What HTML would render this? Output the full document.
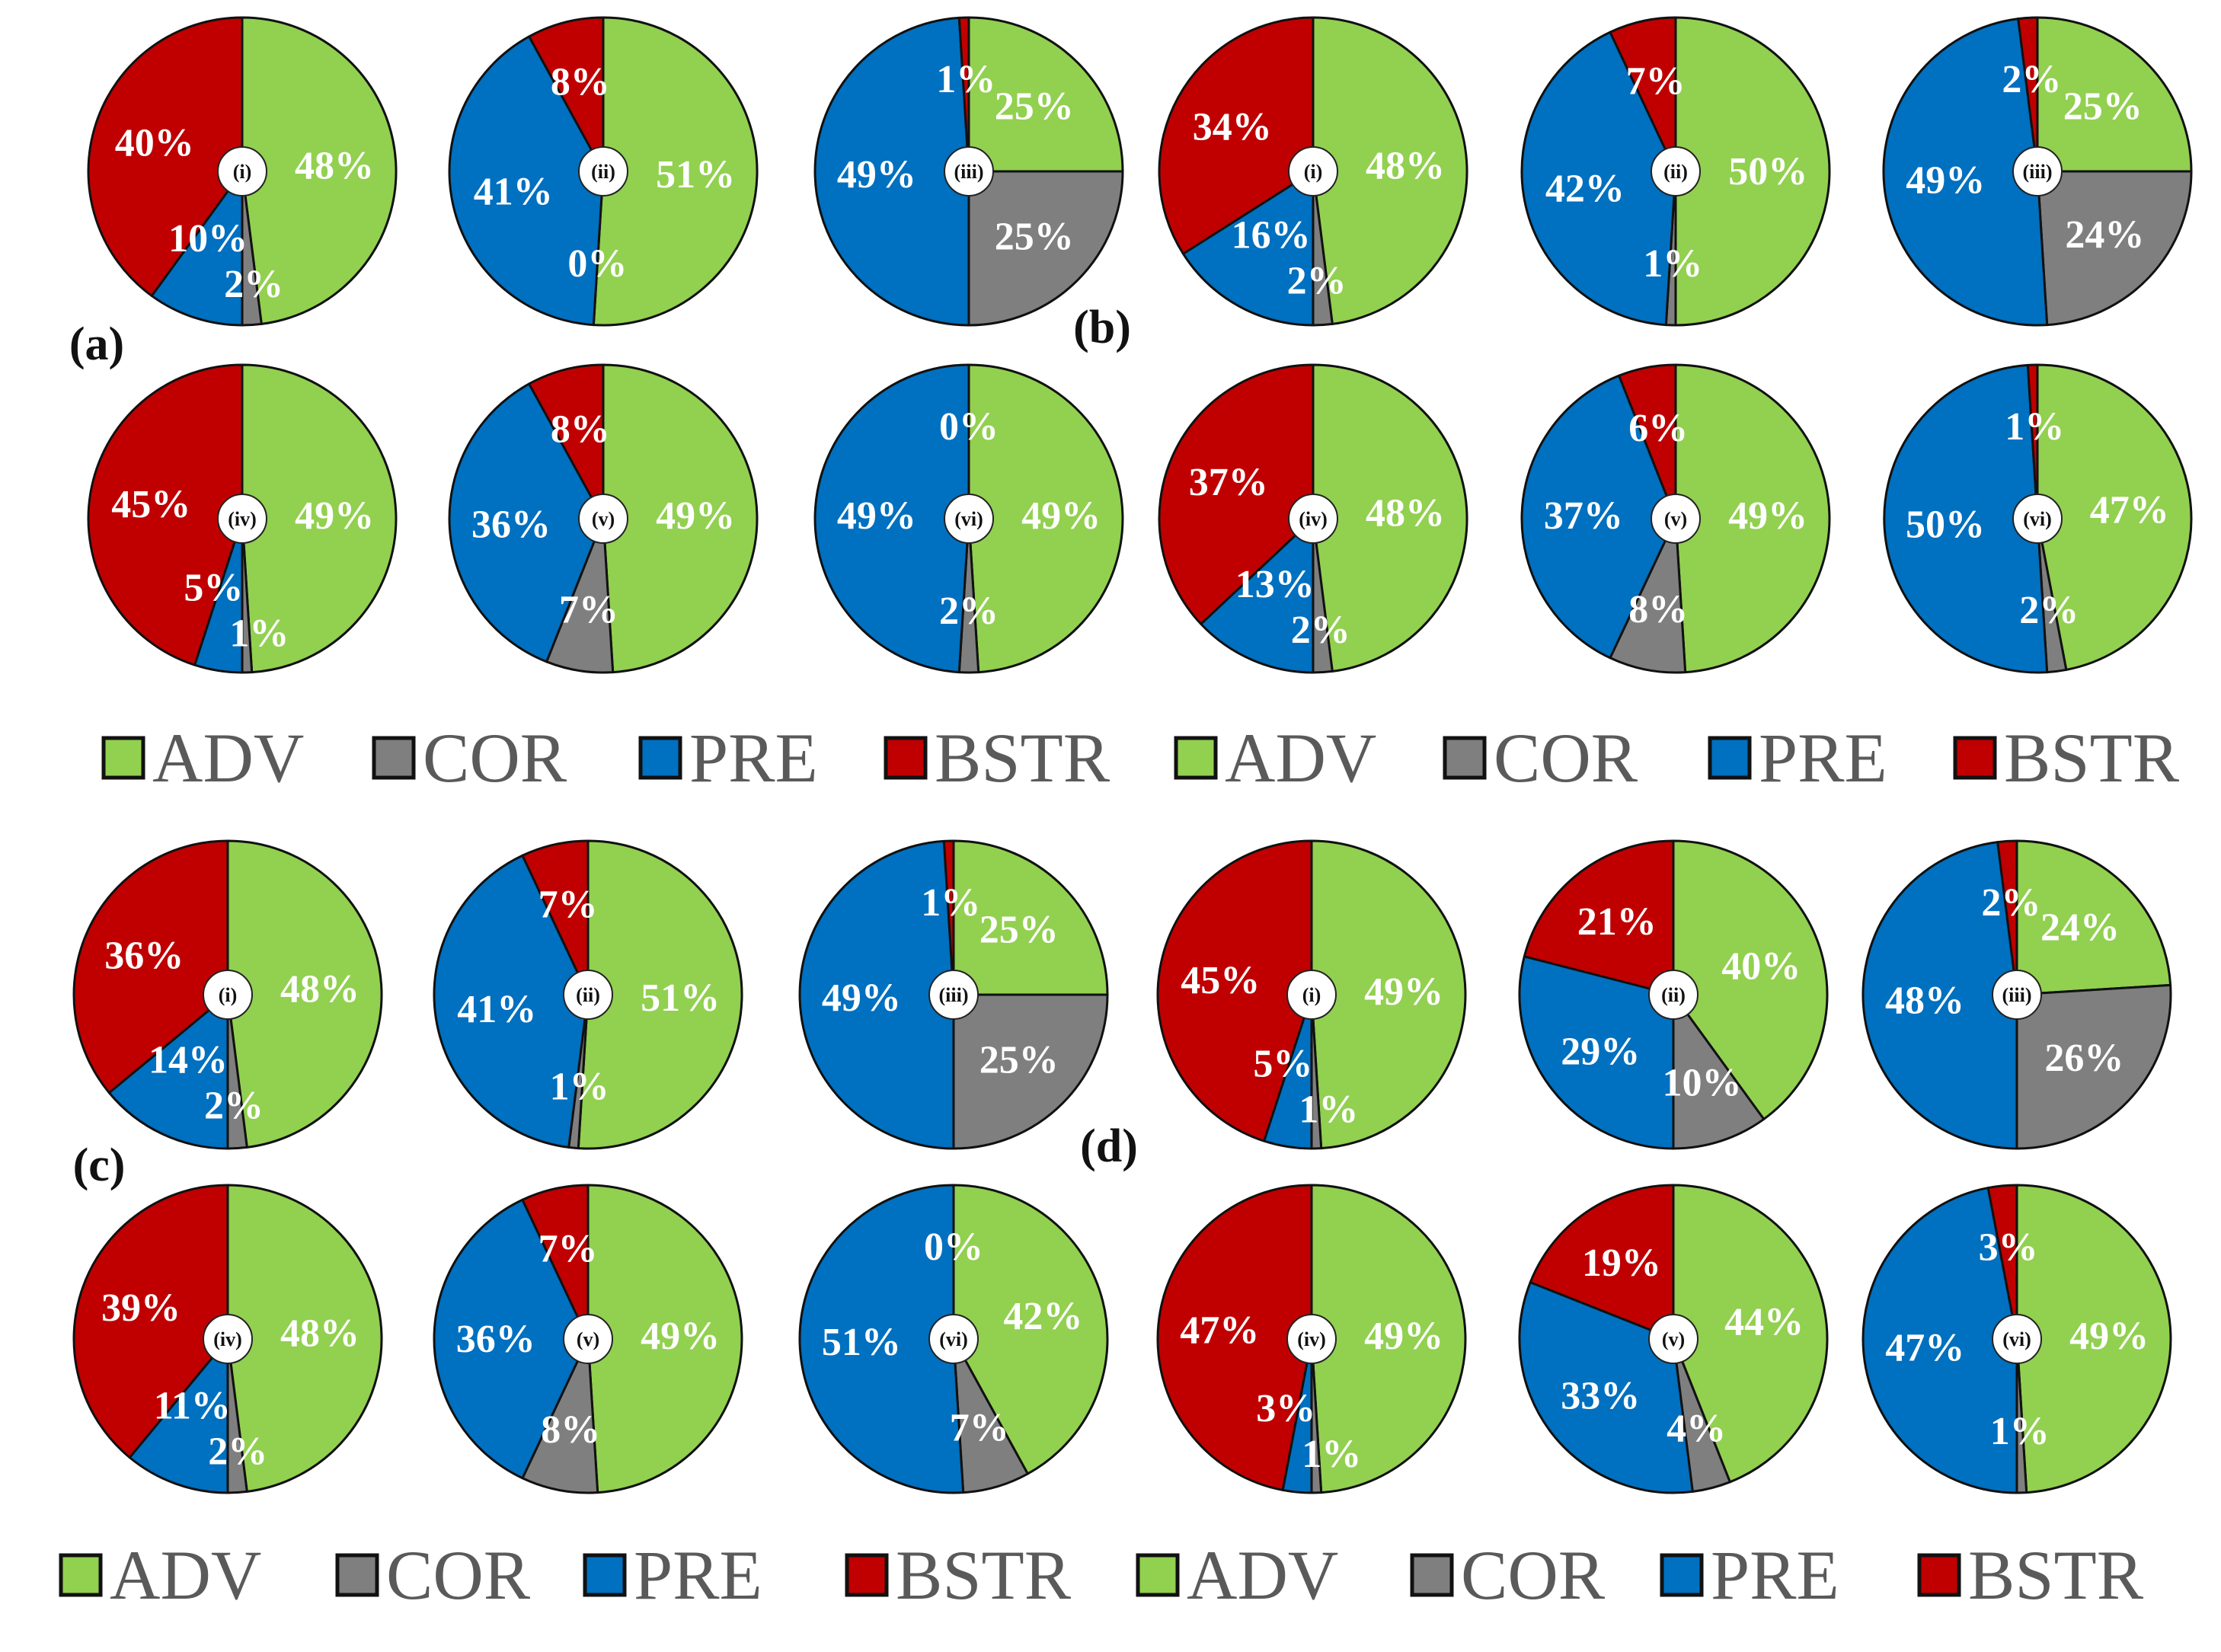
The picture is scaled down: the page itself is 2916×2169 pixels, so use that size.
<!DOCTYPE html>
<html><head><meta charset="utf-8">
<style>
html,body{margin:0;padding:0;background:#fff;}
svg{display:block;}
text{font-family:"Liberation Serif",serif;}
</style></head>
<body>
<svg id="fig" width="2916" height="2169" viewBox="0 0 2916 2169" xmlns="http://www.w3.org/2000/svg"></svg>
<script>
// ---- data ----
const categories = ["ADV","COR","PRE","BSTR"];
const seriesColors = ["#92D050","#7F7F7F","#0070C0","#C00000"];
const pieIds = ["i","ii","iii","iv","v","vi"];
const panelNames = ["a","b","c","d"];
const panelA = [[48,2,10,40],[51,0,41,8],[25,25,49,1],[49,1,5,45],[49,7,36,8],[49,2,49,0]];
const panelB = [[48,2,16,34],[50,1,42,7],[25,24,49,2],[48,2,13,37],[49,8,37,6],[47,2,50,1]];
const panelC = [[48,2,14,36],[51,1,41,7],[25,25,49,1],[48,2,11,39],[49,8,36,7],[42,7,51,0]];
const panelD = [[49,1,5,45],[40,10,29,21],[24,26,48,2],[49,1,3,47],[44,4,33,19],[49,1,47,3]];

// ---- layout ----
const NS = "http://www.w3.org/2000/svg";
const svg = document.getElementById("fig");
const R = 202;
const colsTop = [318, 792, 1272, 1724, 2200, 2675];
const colsBot = [299, 772, 1252, 1722, 2197, 2648];
const rowY = [225, 681, 1306, 1758];
const panels = [
  {name: panelNames[0], data: panelA, cols: colsTop.slice(0,3), rows: [rowY[0], rowY[1]], lx: 127, ly: 452},
  {name: panelNames[1], data: panelB, cols: colsTop.slice(3,6), rows: [rowY[0], rowY[1]], lx: 1447, ly: 430},
  {name: panelNames[2], data: panelC, cols: colsBot.slice(0,3), rows: [rowY[2], rowY[3]], lx: 130, ly: 1530},
  {name: panelNames[3], data: panelD, cols: colsBot.slice(3,6), rows: [rowY[2], rowY[3]], lx: 1456, ly: 1505}
];

function mk(tag, attrs, parent){
  const e = document.createElementNS(NS, tag);
  for (const k in attrs) e.setAttribute(k, attrs[k]);
  (parent || svg).appendChild(e);
  return e;
}
function pt(cx, cy, r, frac){
  const a = frac * 2 * Math.PI;
  return [cx + r * Math.sin(a), cy - r * Math.cos(a)];
}

panels.forEach(function(p){
  const pg = mk("g", {});
  
  
  p.data.forEach(function(vals, idx){
    const cx = p.cols[idx % 3], cy = p.rows[Math.floor(idx / 3)];
    const g = mk("g", {}, pg);
    
    
    const total = vals.reduce(function(s, v){ return s + v; }, 0);
    let cum = 0;
    vals.forEach(function(v, k){
      const f0 = cum / total, f1 = (cum + v) / total;
      cum += v;
      if (v <= 0) return;
      const a = pt(cx, cy, R, f0), b = pt(cx, cy, R, f1);
      const large = (f1 - f0) > 0.5 ? 1 : 0;
      const d = "M" + cx + "," + cy + " L" + a[0].toFixed(2) + "," + a[1].toFixed(2) +
        " A" + R + "," + R + " 0 " + large + " 1 " + b[0].toFixed(2) + "," + b[1].toFixed(2) + " Z";
      const s = mk("path", {d: d, fill: seriesColors[k], stroke: "#111", "stroke-width": 3, "stroke-linejoin": "round"}, g);
      
      
    });
    // label positions
    cum = 0;
    const pos = vals.map(function(v){
      const mid = (cum + v / 2) / total;
      cum += v;
      return pt(cx, cy, 0.6 * R, mid);
    });
    // resolve collisions between consecutive labels
    for (let k = 0; k < pos.length - 1; k++){
      const A = pos[k], B = pos[k + 1];
      if (Math.abs(A[0] - B[0]) < 110 && Math.abs(A[1] - B[1]) < 55){
        const mx = (A[0] + B[0]) / 2, my = (A[1] + B[1]) / 2;
        if (my > cy){ // bottom: first label lower-right, second upper-left
          pos[k] = [mx + 30, my + 30];
          pos[k + 1] = [mx - 30, my - 30];
        } else {
          pos[k] = [mx + 30, my - 30];
          pos[k + 1] = [mx - 30, my + 30];
        }
      }
    }
    vals.forEach(function(v, k){
      const q = pos[k];
      const t = mk("text", {x: q[0].toFixed(1), y: (q[1] + 17).toFixed(1), "text-anchor": "middle",
        "font-weight": "bold", "font-size": 52, fill: "#fff"}, g);
      t.textContent = v + "%";
      
      
    });
    const c = mk("circle", {cx: cx, cy: cy, r: 32, fill: "#fff", stroke: "#222", "stroke-width": 2}, g);
    
    
    const ct = mk("text", {x: cx, y: cy + 9, "text-anchor": "middle",
      "font-weight": "bold", "font-size": 26, fill: "#111"}, g);
    ct.textContent = "(" + pieIds[idx] + ")";
    
    
  });
  const pl = mk("text", {x: p.lx, y: p.ly + 20, "text-anchor": "middle",
    "font-weight": "bold", "font-size": 62, fill: "#111"}, pg);
  pl.textContent = "(" + p.name + ")";
  
  
});

// ---- legends ----
const legendTopBoxX = [136, 491, 841, 1163, 1544, 1897, 2245, 2567];
const legendBotBoxX = [80, 443, 768, 1112, 1494, 1854, 2182, 2520];
function legend(boxXs, cy, nm){
  const lg = mk("g", {});
  
  
  boxXs.forEach(function(x, i){
    const k = i % 4;
    const eg = mk("g", {}, lg);
    
    
    mk("rect", {x: x, y: cy - 26, width: 52, height: 52, fill: seriesColors[k], stroke: "#111", "stroke-width": 5}, eg);
    const t = mk("text", {x: x + 64, y: cy + 31, "font-size": 92, fill: "#5a5a5a"}, eg);
    t.textContent = categories[k];
  });
}
legend(legendTopBoxX, 995, "legend-top");
legend(legendBotBoxX, 2068, "legend-bottom");
</script>
</body></html>
